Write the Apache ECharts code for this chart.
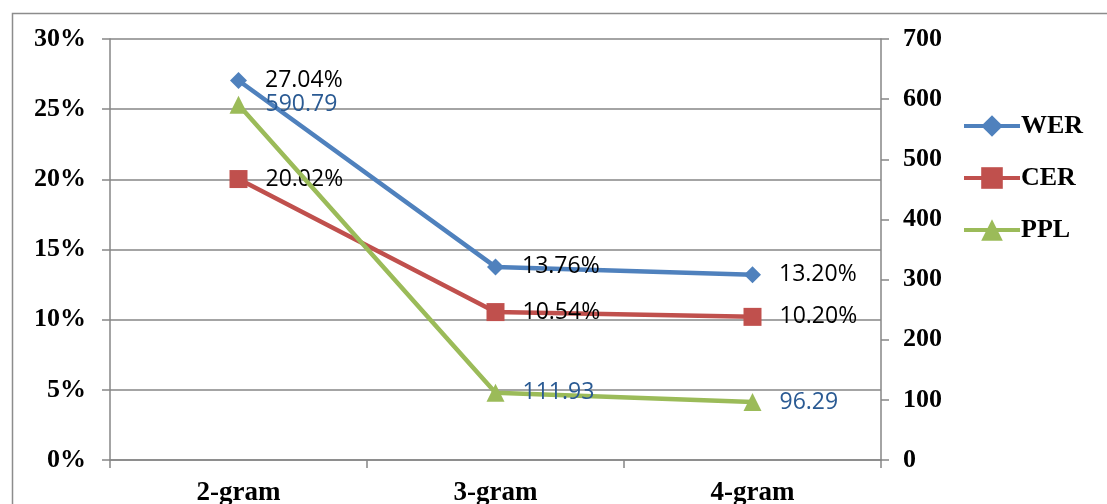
<!DOCTYPE html>
<html><head><meta charset="utf-8">
<script src="https://cdn.jsdelivr.net/npm/echarts@6/dist/echarts.min.js"></script>
<style>html,body{margin:0;padding:0;background:#fff}#c{width:1107px;height:504px}</style>
</head><body><div id="c"></div>
<script>
const categories = ['2-gram', '3-gram', '4-gram'];
const werValues = [27.04, 13.76, 13.20];
const cerValues = [20.02, 10.54, 10.20];
const pplValues = [590.79, 111.93, 96.29];
const leftTicks = {min: 0, max: 30, interval: 5};
const rightTicks = {min: 0, max: 700, interval: 100};

const serifBold = {fontFamily: 'Liberation Serif', fontWeight: 'bold', fontSize: 26, color: '#000'};
const grayLine = {color: '#868686', width: 1.5};
const labelFont = {fontFamily: 'Open Sans', fontSize: 23};

const chart = echarts.init(document.getElementById('c'), null, {renderer: 'canvas'});
chart.setOption({
  animation: false,
  backgroundColor: '#fff',
  graphic: [{type: 'rect', left: 10, top: 11, shape: {width: 1200, height: 600}, style: {fill: 'none', stroke: '#8c8c8c', lineWidth: 1.5}, z: -1}],
  grid: {left: 110, right: 226, top: 39, bottom: 44, containLabel: false, outerBoundsMode: 'none'},
  legend: {
    orient: 'vertical', left: 957, top: 108, itemGap: 26, itemWidth: 56, itemHeight: 27,
    lineStyle: {width: 4},
    textStyle: Object.assign({}, serifBold, {padding: [0, 0, 0, -4]}),
    data: ['WER', 'CER', 'PPL']
  },
  xAxis: {
    type: 'category', data: categories, boundaryGap: true,
    axisLine: {lineStyle: grayLine},
    axisTick: {show: true, length: 8, lineStyle: grayLine},
    axisLabel: Object.assign({margin: 20}, serifBold, {fontSize: 27})
  },
  yAxis: [
    {type: 'value', min: leftTicks.min, max: leftTicks.max, interval: leftTicks.interval,
     axisLine: {show: true, lineStyle: grayLine},
     axisTick: {show: true, length: 8, lineStyle: grayLine},
     splitLine: {show: true, lineStyle: grayLine},
     axisLabel: Object.assign({formatter: '{value}%', margin: 24}, serifBold)},
    {type: 'value', min: rightTicks.min, max: rightTicks.max, interval: rightTicks.interval,
     axisLine: {show: true, lineStyle: grayLine},
     axisTick: {show: true, length: 8, lineStyle: grayLine},
     splitLine: {show: false},
     axisLabel: Object.assign({margin: 22}, serifBold)}
  ],
  series: [
    {name: 'WER', type: 'line', yAxisIndex: 0, data: werValues,
     symbol: 'diamond', symbolSize: 17, itemStyle: {color: '#4F81BD'}, lineStyle: {width: 4.5, color: '#4F81BD'},
     label: Object.assign({show: true, position: 'right', distance: 18, color: '#000', formatter: p => p.value.toFixed(2) + '%'}, labelFont), z: 3},
    {name: 'CER', type: 'line', yAxisIndex: 0, data: cerValues,
     symbol: 'rect', symbolSize: 18, itemStyle: {color: '#C0504D'}, lineStyle: {width: 4.5, color: '#C0504D'},
     label: Object.assign({show: true, position: 'right', distance: 18, color: '#000', formatter: p => p.value.toFixed(2) + '%'}, labelFont), z: 2},
    {name: 'PPL', type: 'line', yAxisIndex: 1, data: pplValues,
     symbol: 'triangle', symbolSize: 18, itemStyle: {color: '#9BBB59'}, lineStyle: {width: 4.5, color: '#9BBB59'},
     label: Object.assign({show: true, position: 'right', distance: 18, color: '#2A5A93', formatter: p => p.value.toFixed(2)}, labelFont), z: 4}
  ]
});
</script></body></html>
